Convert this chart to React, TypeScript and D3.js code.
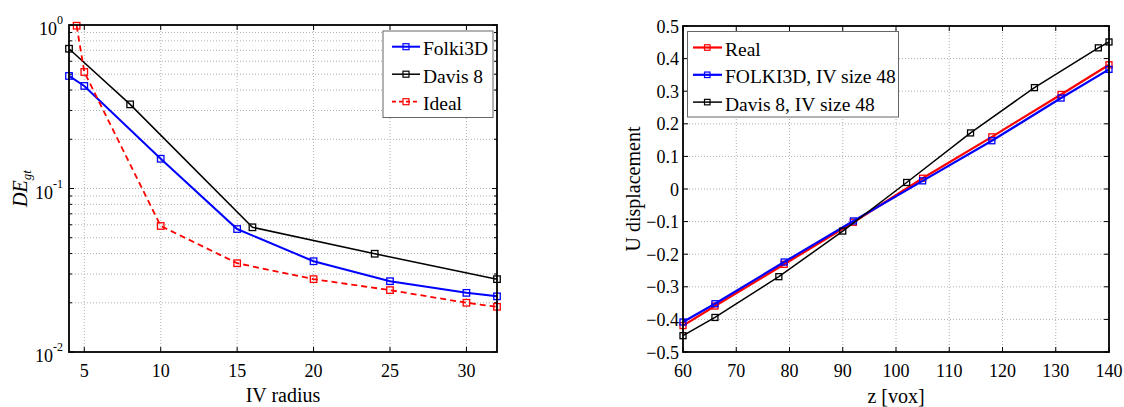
import React from "react";
import * as d3 from "d3";

// ---- Left chart data ----
const folkiR = [4, 5, 10, 15, 20, 25, 30, 32];
const folkiDE = [0.488, 0.424, 0.152, 0.0565, 0.0359, 0.0271, 0.023, 0.0219];
const davisR = [4, 8, 16, 24, 32];
const davisDE = [0.716, 0.327, 0.0579, 0.0399, 0.0279];
const idealR = [4.5, 5, 10, 15, 20, 25, 30, 32];
const idealDE = [0.99, 0.516, 0.059, 0.0349, 0.0279, 0.0239, 0.02, 0.0189];
const leftXTicks = [5, 10, 15, 20, 25, 30];
const leftYMajor = [1, 0.1, 0.01];
const leftYExp = ["0", "-1", "-2"];
const leftLegend = ["Folki3D", "Davis 8", "Ideal"];

// ---- Right chart data ----
const realZ = [60, 66, 79, 92, 105, 118, 131, 140];
const realU = [-0.419, -0.359, -0.231, -0.102, 0.033, 0.16, 0.29, 0.381];
const folkiU = [-0.408, -0.352, -0.224, -0.098, 0.025, 0.148, 0.279, 0.367];
const davisZ = [60, 66, 78, 90, 102, 114, 126, 138, 140];
const davisU = [-0.45, -0.394, -0.269, -0.129, 0.02, 0.172, 0.311, 0.433, 0.451];
const rightXTicks = [60, 70, 80, 90, 100, 110, 120, 130, 140];
const rightYTicks = [-0.5, -0.4, -0.3, -0.2, -0.1, 0, 0.1, 0.2, 0.3, 0.4, 0.5];
const rightLegend = ["Real", "FOLKI3D, IV size 48", "Davis 8, IV size 48"];

const FONT = "'Liberation Serif', 'Times New Roman', serif";
const GRID = "#b0b0b0";
const TICKFS = 18;
const LEGFS = 19.5;
const LABFS = 20;

function Markers({ xs, ys, sx, sy, color, size = 6, sw = 1.3 }: any) {
  return (
    <g>
      {xs.map((x: number, i: number) => (
        <rect key={i} x={sx(x) - size / 2} y={sy(ys[i]) - size / 2} width={size} height={size}
          fill="none" stroke={color} strokeWidth={sw} />
      ))}
    </g>
  );
}

export default function App() {
  // Left chart
  const L = { x0: 69, x1: 497, y0: 25, y1: 352 };
  const lx = d3.scaleLinear().domain([4, 32]).range([L.x0, L.x1]);
  const ly = d3.scaleLog().domain([0.01, 1]).range([L.y1, L.y0]);
  const lline = (xs: number[], ys: number[]) =>
    d3.line<number>().x((d, i) => lx(xs[i])).y((d, i) => ly(ys[i]))(ys) as string;
  const minorVals: number[] = [];
  [0.01, 0.1].forEach((dec) => {
    for (let k = 2; k <= 9; k++) minorVals.push(dec * k);
  });

  // Right chart
  const R = { x0: 683, x1: 1109, y0: 26, y1: 352 };
  const rx = d3.scaleLinear().domain([60, 140]).range([R.x0, R.x1]);
  const ry = d3.scaleLinear().domain([-0.5, 0.5]).range([R.y1, R.y0]);
  const rline = (xs: number[], ys: number[]) =>
    d3.line<number>().x((d, i) => rx(xs[i])).y((d, i) => ry(ys[i]))(ys) as string;

  const tick = 5;
  const XTICK_BASE = 377;
  const leftSeries = [
    { xs: folkiR, ys: folkiDE, color: "#0000ff", w: 2, dash: undefined },
    { xs: davisR, ys: davisDE, color: "#000000", w: 1.5, dash: undefined },
    { xs: idealR, ys: idealDE, color: "#ff0000", w: 1.8, dash: "6,4" },
  ];
  const rightSeries = [
    { xs: realZ, ys: realU, color: "#ff0000", w: 2.2, dash: undefined },
    { xs: realZ, ys: folkiU, color: "#0000ff", w: 2.2, dash: undefined },
    { xs: davisZ, ys: davisU, color: "#000000", w: 1.5, dash: undefined },
  ];

  return (
    <svg width={1124} height={407} style={{ position: "absolute", left: 0, top: 0, background: "#fff" }}
      fontFamily={FONT}>
      <rect x={0} y={0} width={1124} height={407} fill="#fff" />
      {/* ===== LEFT CHART ===== */}
      <g>
        {leftXTicks.map((t) => (
          <line key={"gx" + t} x1={lx(t)} x2={lx(t)} y1={L.y0} y2={L.y1} stroke={GRID} strokeDasharray="1,2" />
        ))}
        {minorVals.concat([0.1]).map((v, i) => (
          <line key={"gy" + i} x1={L.x0} x2={L.x1} y1={ly(v)} y2={ly(v)} stroke={GRID} strokeDasharray="1,2" />
        ))}
        {leftXTicks.map((t) => (
          <g key={"tx" + t}>
            <line x1={lx(t)} x2={lx(t)} y1={L.y1} y2={L.y1 - tick} stroke="#000" />
            <line x1={lx(t)} x2={lx(t)} y1={L.y0} y2={L.y0 + tick} stroke="#000" />
            <text x={lx(t)} y={XTICK_BASE} textAnchor="middle" fontSize={TICKFS}>{t}</text>
          </g>
        ))}
        {leftYMajor.map((v) => (
          <g key={"ty" + v}>
            <line x1={L.x0} x2={L.x0 + tick} y1={ly(v)} y2={ly(v)} stroke="#000" />
            <line x1={L.x1} x2={L.x1 - tick} y1={ly(v)} y2={ly(v)} stroke="#000" />
          </g>
        ))}
        {minorVals.map((v, i) => (
          <g key={"tm" + i}>
            <line x1={L.x0} x2={L.x0 + 3} y1={ly(v)} y2={ly(v)} stroke="#000" />
            <line x1={L.x1} x2={L.x1 - 3} y1={ly(v)} y2={ly(v)} stroke="#000" />
          </g>
        ))}
        {leftYMajor.map((v, i) => (
          <text key={"yl" + v} x={63} y={ly(v) + 10} textAnchor="end" fontSize={TICKFS}>
            10<tspan fontSize={12} dy={-11}>{leftYExp[i]}</tspan>
          </text>
        ))}
        {leftSeries.map((s, i) => (
          <g key={"ls" + i}>
            <path d={lline(s.xs, s.ys)} fill="none" stroke={s.color} strokeWidth={s.w} strokeDasharray={s.dash} />
            <Markers xs={s.xs} ys={s.ys} sx={lx} sy={ly} color={s.color} size={6.5} />
          </g>
        ))}
        <rect x={L.x0} y={L.y0} width={L.x1 - L.x0} height={L.y1 - L.y0} fill="none" stroke="#000" strokeWidth={1.8} />
        {/* legend */}
        <rect x={383} y={31} width={110} height={86.5} fill="#fff" stroke="#666" strokeWidth={1} />
        {leftLegend.map((name, i) => {
          const yy = 46.7 + i * 27.5;
          const s = leftSeries[i];
          return (
            <g key={"lg" + i}>
              <line x1={392} x2={420} y1={yy} y2={yy} stroke={s.color} strokeWidth={s.w} strokeDasharray={s.dash ? "4,3" : undefined} />
              <rect x={403} y={yy - 3} width={6} height={6} fill="none" stroke={s.color} strokeWidth={1.2} />
              <text x={423} y={yy + 8.5} fontSize={LEGFS}>{name}</text>
            </g>
          );
        })}
        <text x={(L.x0 + L.x1) / 2} y={402} textAnchor="middle" fontSize={LABFS}>IV radius</text>
        <text transform={`translate(27,${(L.y0 + L.y1) / 2}) rotate(-90)`} textAnchor="middle" fontSize={LABFS}>
          <tspan fontStyle="italic">DE</tspan>
          <tspan fontStyle="italic" fontSize={13} dy={4}>gt</tspan>
        </text>
      </g>

      {/* ===== RIGHT CHART ===== */}
      <g>
        {rightXTicks.map((t) => (
          <line key={"rgx" + t} x1={rx(t)} x2={rx(t)} y1={R.y0} y2={R.y1} stroke={GRID} strokeDasharray="1,2" />
        ))}
        {rightYTicks.map((t) => (
          <line key={"rgy" + t} x1={R.x0} x2={R.x1} y1={ry(t)} y2={ry(t)} stroke={GRID} strokeDasharray="1,2" />
        ))}
        {rightXTicks.map((t) => (
          <g key={"rtx" + t}>
            <line x1={rx(t)} x2={rx(t)} y1={R.y1} y2={R.y1 - tick} stroke="#000" />
            <line x1={rx(t)} x2={rx(t)} y1={R.y0} y2={R.y0 + tick} stroke="#000" />
            <text x={rx(t)} y={XTICK_BASE} textAnchor="middle" fontSize={TICKFS}>{t}</text>
          </g>
        ))}
        {rightYTicks.map((t) => (
          <g key={"rty" + t}>
            <line x1={R.x0} x2={R.x0 + tick} y1={ry(t)} y2={ry(t)} stroke="#000" />
            <line x1={R.x1} x2={R.x1 - tick} y1={ry(t)} y2={ry(t)} stroke="#000" />
            <text x={679} y={ry(t) + 6.5} textAnchor="end" fontSize={TICKFS}>{d3.format("")(t)}</text>
          </g>
        ))}
        {rightSeries.map((s, i) => (
          <g key={"rs" + i}>
            <path d={rline(s.xs, s.ys)} fill="none" stroke={s.color} strokeWidth={s.w} />
            <Markers xs={s.xs} ys={s.ys} sx={rx} sy={ry} color={s.color} size={6} />
          </g>
        ))}
        <rect x={R.x0} y={R.y0} width={R.x1 - R.x0} height={R.y1 - R.y0} fill="none" stroke="#000" strokeWidth={1.8} />
        <rect x={687.5} y={31.5} width={211} height={85.5} fill="#fff" stroke="#666" strokeWidth={1} />
        {rightLegend.map((name, i) => {
          const yy = 47.5 + i * 27.3;
          const s = rightSeries[i];
          return (
            <g key={"rlg" + i}>
              <line x1={693} x2={722} y1={yy} y2={yy} stroke={s.color} strokeWidth={s.w} />
              <rect x={704.5} y={yy - 2.75} width={5.5} height={5.5} fill="none" stroke={s.color} strokeWidth={1.2} />
              <text x={725} y={yy + 8.5} fontSize={LEGFS}>{name}</text>
            </g>
          );
        })}
        <text x={(R.x0 + R.x1) / 2} y={403} textAnchor="middle" fontSize={LABFS}>z [vox]</text>
        <text transform={`translate(640,${(R.y0 + R.y1) / 2}) rotate(-90)`} textAnchor="middle" fontSize={LABFS}>
          U displacement
        </text>
      </g>
    </svg>
  );
}
